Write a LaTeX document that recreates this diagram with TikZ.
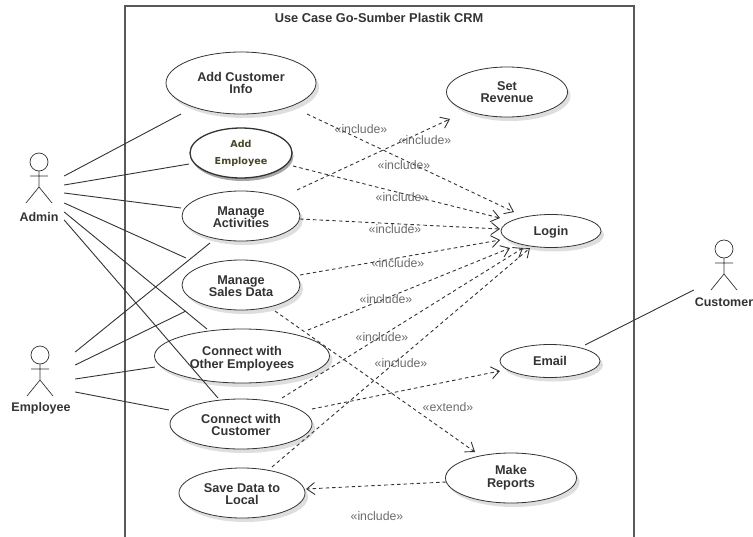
\documentclass[tikz,border=0pt]{standalone}
\usepackage{fontspec}
\setmainfont{Liberation Sans}
\newfontfamily\empfont{DejaVu Sans}
\usetikzlibrary{shapes.geometric,arrows.meta,shadows}
\definecolor{inkc}{gray}{0.2}
\definecolor{lblc}{gray}{0.42}
\tikzset{
  uc/.style={ellipse,draw=inkc,line width=0.8pt,fill=white,inner sep=0pt,align=center,
    font=\fontsize{12.7}{12.7}\selectfont\bfseries,text=inkc,
    drop shadow={shadow xshift=3pt,shadow yshift=-4pt,opacity=.13,fill=black}},
  ucstrong/.style={ellipse,draw=black!80,line width=1.3pt,fill=white,inner sep=0pt,align=center,
    font=\empfont\fontsize{9.6}{17}\selectfont\bfseries,text={rgb,255:red,74;green,70;blue,40},
    drop shadow={shadow xshift=1.5pt,shadow yshift=-3pt,opacity=.35,fill=black}},
  actorname/.style={font=\fontsize{12.5}{12.5}\selectfont\bfseries,text=inkc,inner sep=0pt,minimum height=12pt},
  assoc/.style={draw=inkc,line width=0.9pt},
  dep/.style={draw=inkc,line width=0.9pt,dash pattern=on 3.5pt off 3pt,-{Straight Barb[length=8pt,width=12pt,line width=0.9pt]}},
  tag/.style={font=\fontsize{12.3}{12.3}\selectfont,text=lblc,inner sep=0pt},
  frame/.style={draw=black!65,line width=1.1pt},
  stick/.style={draw=inkc,line width=0.7pt}
}
\newcommand{\stickman}[2]{%
  \begin{scope}[shift={(#1,#2)}]
    \draw[stick] (0,0) circle (9pt);
    \draw[stick] (0,9) -- (0,25) (-9,14) -- (9,14) (-13,41) -- (0,25) -- (13,41);
  \end{scope}}
\begin{document}
\begin{tikzpicture}[x=1pt,y=-1pt]
\useasboundingbox (0,0) rectangle (753,536);
\begin{scope}
\clip (0,0) rectangle (753,536);
\draw[frame] (125,6) rectangle (634,540);
\end{scope}
\node[font=\fontsize{12.8}{12.8}\selectfont\bfseries,text=inkc,inner sep=0pt] (title) at (379,18) {Use Case Go-Sumber Plastik CRM};

\stickman{39}{162}
\stickman{40}{355}
\stickman{724}{249}
\node[actorname,minimum width=50pt] (admin) at (39,217) {Admin};
\node[actorname,minimum width=68pt] (employee) at (41,408) {Employee};
\node[actorname,minimum width=60pt] (customer) at (724,302) {Customer};

\node[uc,minimum width=150pt,minimum height=62pt] (cust) at (241,83) {Add Customer\\Info};
\node[ucstrong,minimum width=102pt,minimum height=50pt] (emp) at (241,153) {Add\\Employee};
\node[uc,minimum width=118pt,minimum height=50pt] (act) at (241,216) {\rule{0pt}{11pt}Manage\\Activities};
\node[uc,minimum width=118pt,minimum height=50pt] (sales) at (241,285) {\rule{0pt}{11pt}Manage\\Sales Data};
\node[uc,minimum width=175pt,minimum height=54pt] (other) at (242,356) {\rule{0pt}{15pt}Connect with\\Other Employees};
\node[uc,minimum width=142pt,minimum height=50pt] (ccust) at (241,424) {\rule{0pt}{11pt}Connect with\\Customer};
\node[uc,minimum width=126pt,minimum height=50pt] (save) at (242,493) {\rule{0pt}{11pt}Save Data to\\Local};
\node[uc,minimum width=131pt,minimum height=50pt] (reports) at (511,478) {Make\\Reports};
\node[uc,minimum width=100pt,minimum height=33pt] (email) at (550,361) {Email};
\node[uc,minimum width=100pt,minimum height=33pt] (login) at (551,231) {\rule{0pt}{11pt}Login};
\node[uc,minimum width=121pt,minimum height=50pt] (revenue) at (507,92) {Set\\Revenue};

% associations
\draw[assoc] ([shift={(0,-41)}]admin.east) -- ([shift={(-60,31)}]cust.center);
\draw[assoc] ([shift={(0,-32)}]admin.east) -- ([shift={(-52,11)}]emp.center);
\draw[assoc] ([shift={(0,-24)}]admin.east) -- ([shift={(-60,-8)}]act.center);
\draw[assoc] ([shift={(0,-14)}]admin.east) -- ([shift={(-55,-27)}]sales.center);
\draw[assoc] ([shift={(0,-5)}]admin.east) -- ([shift={(-35,-27)}]other.center);
\draw[assoc] ([shift={(0,3)}]admin.east) -- ([shift={(-23,-26)}]ccust.center);
\draw[assoc] ([shift={(0,-56)}]employee.east) -- ([shift={(-31,27)}]act.center);
\draw[assoc] ([shift={(0,-43)}]employee.east) -- ([shift={(-55,26)}]sales.center);
\draw[assoc] ([shift={(0,-29)}]employee.east) -- ([shift={(-87,11)}]other.center);
\draw[assoc] ([shift={(0,-16)}]employee.east) -- ([shift={(-72,-14)}]ccust.center);
\draw[assoc] ([shift={(0,-12)}]customer.west) -- ([shift={(35,-16)}]email.center);

% dependencies
\draw[dep] ([shift={(66,31)}]cust.center) -- ([shift={(-37,-19)}]login.center);
\draw[dep] ([shift={(52,13)}]emp.center) -- ([shift={(-51,-13)}]login.center);
\draw[dep] ([shift={(59,3)}]act.center) -- ([shift={(-51,-2)}]login.center);
\draw[dep] ([shift={(56,-26)}]act.center) -- ([shift={(-57,27)}]revenue.center);
\draw[dep] ([shift={(59,-10)}]sales.center) -- ([shift={(-51,9)}]login.center);
\draw[dep] ([shift={(34,26)}]sales.center) -- ([shift={(-36,-26)}]reports.center);
\draw[dep] ([shift={(66,-26)}]other.center) -- ([shift={(-41,17)}]login.center);
\draw[dep] ([shift={(41,-26)}]ccust.center) -- ([shift={(-28,17)}]login.center);
\draw[dep] ([shift={(71,-15)}]ccust.center) -- ([shift={(-50,10)}]email.center);
\draw[dep] ([shift={(30,-26)}]save.center) -- ([shift={(-21,17)}]login.center);
\draw[dep] ([shift={(-65,4)}]reports.center) -- ([shift={(64,-4)}]save.center);

% labels
\node[tag] (t1) at (361,129) {«include»};
\node[tag] (t2) at (425,140) {«include»};
\node[tag] (t3) at (404,165) {«include»};
\node[tag] (t4) at (402,197) {«include»};
\node[tag] (t5) at (395,229) {«include»};
\node[tag] (t6) at (398,263) {«include»};
\node[tag] (t7) at (386,299) {«include»};
\node[tag] (t8) at (382,337) {«include»};
\node[tag] (t9) at (401,363) {«include»};
\node[tag] (t10) at (448,407) {«extend»};
\node[tag] (t11) at (377,516) {«include»};
\end{tikzpicture}
\end{document}
